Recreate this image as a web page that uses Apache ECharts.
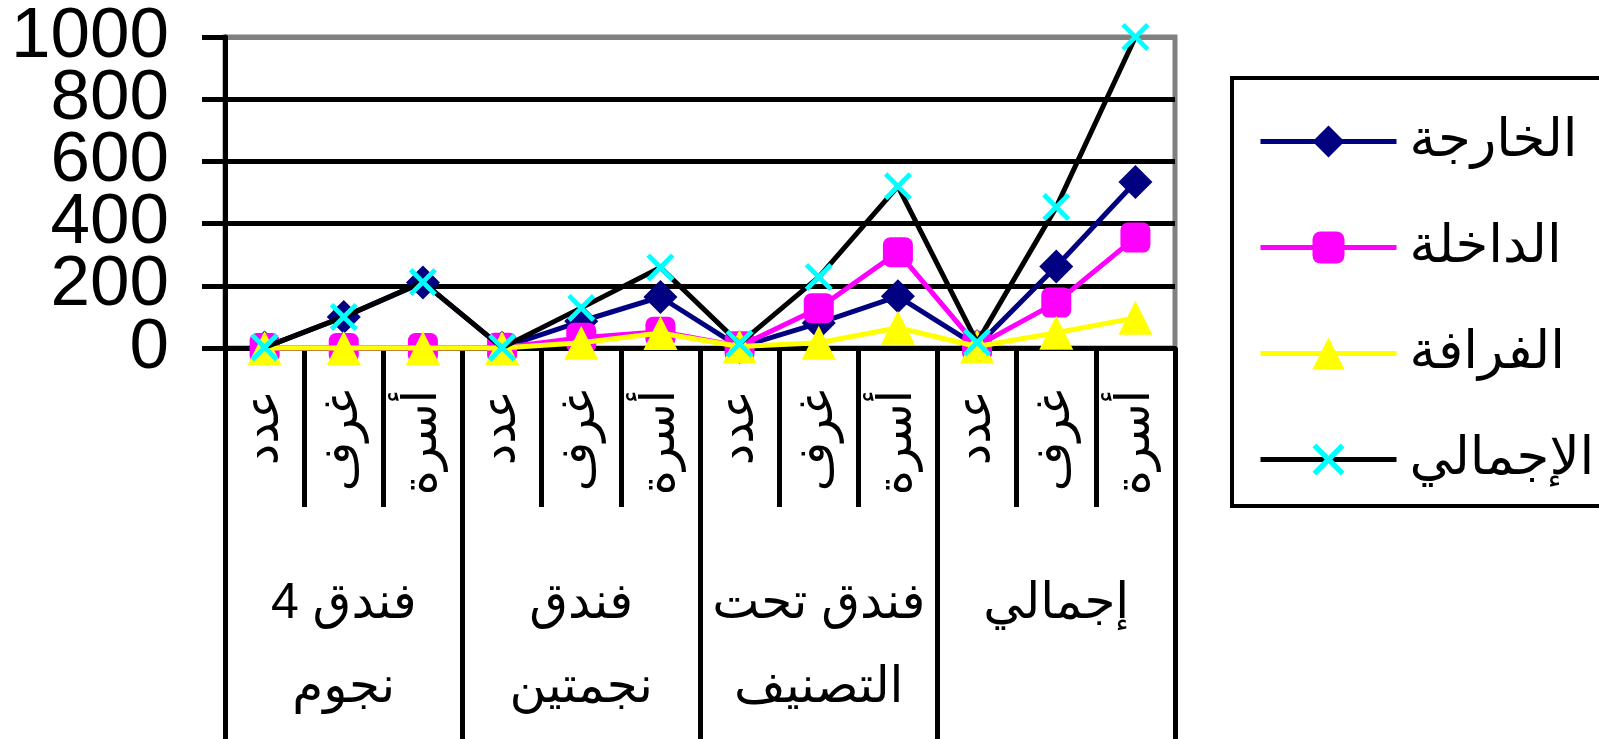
<!DOCTYPE html>
<html>
<head>
<meta charset="utf-8">
<script src="https://cdn.jsdelivr.net/npm/echarts@6/dist/echarts.min.js"></script>
<style>
  html, body { margin: 0; padding: 0; background: #fff; }
  #chart { width: 1599px; height: 739px; }
</style>
</head>
<body>
<div id="chart"></div>
<script>
// Hotel capacity by class (count / rooms / beds) for each oasis and the total
const groupLabels = ['فندق 4\nنجوم', 'فندق\nنجمتين', 'فندق تحت\nالتصنيف', 'إجمالي'];
const subLabels = ['عدد', 'غرف', 'أسرة'];
const categories = groupLabels.flatMap(() => subLabels);

const seriesNames = ['الخارجة', 'الداخلة', 'الفرافة', 'الإجمالي'];
const kharga  = [2, 100, 211,   1, 86, 164,   3, 80, 166,   6, 262, 534];
const dakhla  = [0, 0, 0,       1, 33, 52,    6, 128, 308,  7, 146, 355];
const farafra = [0, 0, 0,       0, 17, 48,    5, 17, 65,    5, 49, 97];
const total   = [2, 100, 212,   1, 129, 259,  14, 228, 520, 18, 453, 1000];

const yTicks = [0, 200, 400, 600, 800, 1000];
// The big value labels sit close together; the second (label-only) axis carries
// the ones next to the ends so none of them gets dropped as overlapping.
const yLabelsOuter = [0, 400, 600, 1000];
const yLabelsInner = [200, 800];

const FONT = "'Liberation Sans', Arial, 'DejaVu Sans', sans-serif";
const X_SYMBOL = 'path://M0,12 L12,0 L50,38 L88,0 L100,12 L62,50 L100,88 L88,100 L50,62 L12,100 L0,88 L38,50 Z';
const LW = 5;

const chart = echarts.init(document.getElementById('chart'), null, { renderer: 'canvas' });

function lineSeries(name, data, lineColor, symbol, symbolColor, size, z) {
  return {
    name: name,
    type: 'line',
    data: data,
    xAxisIndex: 0,
    yAxisIndex: 0,
    z: z,
    clip: false,
    symbol: symbol,
    symbolSize: size,
    showAllSymbol: true,
    lineStyle: { color: lineColor, width: LW },
    itemStyle: { color: symbolColor, borderWidth: 0 },
    emphasis: { disabled: true }
  };
}

const yLabelStyle = { margin: 56, fontFamily: FONT, fontSize: 71, color: '#000' };

chart.setOption({
  animation: false,
  backgroundColor: '#ffffff',
  textStyle: { fontFamily: FONT, color: '#000' },
  grid: {
    left: 225, top: 37, width: 950, height: 311,
    outerBoundsMode: 'none',
    containLabel: false,
    show: true, borderColor: '#808080', borderWidth: LW, backgroundColor: 'transparent'
  },
  legend: {
    orient: 'vertical',
    left: 1232, top: 78,
    padding: [37, 80, 20, 26],
    borderColor: '#000', borderWidth: 4, borderRadius: 0,
    itemWidth: 136, itemHeight: 40, itemGap: 53,
    data: seriesNames,
    lineStyle: { width: LW },
    textStyle: { fontFamily: FONT, fontSize: 53, color: '#000', padding: [0, 0, 0, 8] },
    selectedMode: false
  },
  xAxis: [
    {
      type: 'category',
      data: categories,
      position: 'bottom',
      boundaryGap: true,
      axisLine: { show: true, lineStyle: { color: '#000', width: LW } },
      axisTick: { show: true, interval: 0, length: 159, lineStyle: { color: '#000', width: LW } },
      axisLabel: {
        interval: 0, rotate: 90, margin: 42,
        fontFamily: FONT, fontSize: 48, color: '#000'
      },
      splitLine: { show: false }
    },
    {
      type: 'category',
      data: groupLabels,
      position: 'bottom',
      boundaryGap: true,
      axisLine: { show: false },
      axisTick: { show: true, interval: 0, length: 391, lineStyle: { color: '#000', width: LW } },
      axisLabel: {
        interval: 0, margin: 214,
        fontFamily: FONT, fontSize: 50, lineHeight: 84, color: '#000'
      },
      splitLine: { show: false }
    }
  ],
  yAxis: [
    {
      type: 'value',
      position: 'left',
      min: yTicks[0],
      max: yTicks[yTicks.length - 1],
      interval: yTicks[1] - yTicks[0],
      axisLine: { show: true, lineStyle: { color: '#000', width: LW } },
      axisTick: { show: true, length: 23, lineStyle: { color: '#000', width: LW } },
      axisLabel: Object.assign({}, yLabelStyle, {
        formatter: (v) => (yLabelsOuter.includes(v) ? String(v) : ''),
        showMinLabel: true, showMaxLabel: true
      }),
      splitLine: {
        show: true,
        lineStyle: { color: ['#000', '#000', '#000', '#000', '#000', '#808080'], width: LW }
      }
    },
    {
      type: 'value',
      position: 'left',
      offset: 0,
      min: yTicks[0],
      max: yTicks[yTicks.length - 1],
      interval: yTicks[1] - yTicks[0],
      axisLine: { show: false },
      axisTick: { show: false },
      splitLine: { show: false },
      axisLabel: Object.assign({}, yLabelStyle, {
        formatter: (v) => (yLabelsInner.includes(v) ? String(v) : ''),
        showMinLabel: false, showMaxLabel: false
      })
    }
  ],
  series: [
    lineSeries(seriesNames[0], kharga, '#000080', 'diamond', '#000080', 34, 2),
    lineSeries(seriesNames[1], dakhla, '#FF00FF', 'roundRect', '#FF00FF', 30, 3),
    lineSeries(seriesNames[2], farafra, '#FFFF00', 'triangle', '#FFFF00', 34, 4),
    lineSeries(seriesNames[3], total, '#000000', X_SYMBOL, '#00FFFF', 28, 5)
  ]
});
</script>
</body>
</html>
